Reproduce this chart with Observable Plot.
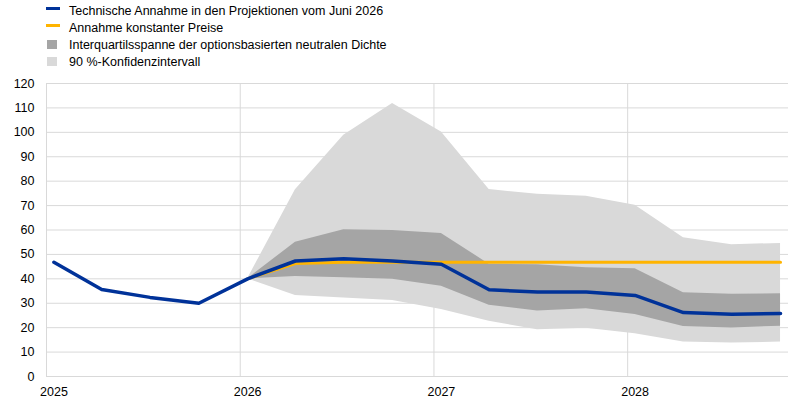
<!DOCTYPE html>
<html><head><meta charset="utf-8">
<script src="https://cdn.jsdelivr.net/npm/d3@7"></script>
<script src="https://cdn.jsdelivr.net/npm/@observablehq/plot@0.6"></script>
<style>
body{margin:0;background:#fff;font-family:"Liberation Sans",Arial,sans-serif;}
#wrap{position:relative;width:800px;height:400px;overflow:hidden;background:#fff}
.lg{position:absolute;left:69px;font-size:12.5px;color:#000;line-height:14px;white-space:nowrap}
.sw{position:absolute}
#chart{position:absolute;left:0;top:70px}
</style></head><body>
<div id="wrap">
<div id="legend"></div>
<div id="chart"></div>
</div>
<script>
// Quarterly observation dates (mid-month of each quarter's first month)
const quarters = ["2025-01-15","2025-04-15","2025-07-15","2025-10-15",
                  "2026-01-15","2026-04-15","2026-07-15","2026-10-15",
                  "2027-01-15","2027-04-15","2027-07-15","2027-10-15",
                  "2028-01-15","2028-04-15","2028-07-15","2028-10-15"];
// Technische Annahme in den Projektionen vom Juni 2026
const technical = [46.8, 35.6, 32.4, 30.0, 40.0, 47.3, 48.2, 47.3, 46.0, 35.5, 34.6, 34.6, 33.2, 26.2, 25.5, 25.8];
// Annahme konstanter Preise
const constantPrices = [null, null, null, null, 40.0, 46.3, 46.8, 46.8, 46.8, 46.8, 46.8, 46.8, 46.8, 46.8, 46.8, 46.8];
// Interquartilsspanne
const iqrLow  = [null, null, null, null, 40.0, 41.0, 40.4, 39.8, 37.0, 29.2, 26.8, 27.7, 25.4, 20.5, 19.9, 20.6];
const iqrHigh = [null, null, null, null, 40.0, 55.0, 60.1, 59.8, 58.6, 46.0, 45.8, 44.5, 44.1, 34.3, 33.7, 33.9];
// 90 %-Konfidenzintervall
const ciLow   = [null, null, null, null, 40.0, 33.2, 32.2, 31.1, 27.4, 22.6, 19.1, 19.8, 17.5, 14.1, 13.7, 14.1];
const ciHigh  = [null, null, null, null, 40.0, 76.5, 98.8, 111.8, 100.1, 76.6, 74.6, 73.8, 70.1, 56.8, 54.0, 54.5];

const yTicks = [0, 10, 20, 30, 40, 50, 60, 70, 80, 90, 100, 110, 120];
const yearLabelDates = ["2025-01-15", "2026-01-15", "2027-01-15", "2028-01-15"];
const yearStarts = ["2025-01-01", "2026-01-01", "2027-01-01", "2028-01-01"];

const legendLabels = ["Technische Annahme in den Projektionen vom Juni 2026",
                      "Annahme konstanter Preise",
                      "Interquartilsspanne der optionsbasierten neutralen Dichte",
                      "90 %-Konfidenzintervall"];
const legendColors = ["#003299", "#ffb400", "#a5a5a5", "#d9d9d9"];
const legendKinds = ["line", "line", "box", "box"];

const toDate = s => new Date(s + "T00:00:00Z");

// Legend (HTML above the SVG)
const lg = document.getElementById("legend");
const rowCenters = [10.5, 27.8, 45, 62.3];
legendLabels.forEach((t, i) => {
  const sw = document.createElement("div");
  sw.className = "sw";
  if (legendKinds[i] === "line") {
    sw.style.cssText = `left:46px;top:${rowCenters[i]-3.5}px;width:14px;height:3px;background:${legendColors[i]}`;
  } else {
    sw.style.cssText = `left:47px;top:${rowCenters[i]-5.5}px;width:10px;height:9px;background:${legendColors[i]}`;
  }
  lg.appendChild(sw);
  const tx = document.createElement("div");
  tx.className = "lg";
  tx.style.top = (rowCenters[i] - 7) + "px";
  tx.textContent = t;
  lg.appendChild(tx);
});

const rows = quarters.map((q, i) => ({
  date: toDate(q), tech: technical[i], konst: constantPrices[i],
  iqrLo: iqrLow[i], iqrHi: iqrHigh[i], ciLo: ciLow[i], ciHi: ciHigh[i]
}));
const bandRows = rows.filter(d => d.ciLo != null);
const konstRows = rows.filter(d => d.konst != null);

const chart = Plot.plot({
  width: 800, height: 330,
  marginTop: 13, marginBottom: 24, marginLeft: 46, marginRight: 12,
  style: {fontFamily: "'Liberation Sans', Arial, sans-serif", fontSize: "12.5px", color: "#000", background: "#fff"},
  x: {type: "utc", domain: [toDate("2025-01-01"), toDate("2028-10-30")]},
  y: {domain: [0, 120]},
  marks: [
    Plot.gridY(yTicks, {stroke: "#d9d9d9", strokeOpacity: 1}),
    Plot.ruleX(yearStarts.map(toDate), {stroke: "#d9d9d9", strokeOpacity: 1}),
    Plot.areaY(bandRows, {x: "date", y1: "ciLo", y2: "ciHi", fill: "#d9d9d9"}),
    Plot.areaY(bandRows, {x: "date", y1: "iqrLo", y2: "iqrHi", fill: "#a5a5a5"}),
    Plot.lineY(konstRows, {x: "date", y: "konst", stroke: "#ffb400", strokeWidth: 3}),
    Plot.lineY(rows, {x: "date", y: "tech", stroke: "#003299", strokeWidth: 3.5}),
    Plot.axisY(yTicks, {tickSize: 0, tickPadding: 12, label: null}),
    Plot.axisX(yearLabelDates.map(toDate), {tickSize: 0, tickPadding: 11, tickFormat: d3.utcFormat("%Y"), label: null})
  ]
});
document.getElementById("chart").appendChild(chart);
</script>
</body></html>
